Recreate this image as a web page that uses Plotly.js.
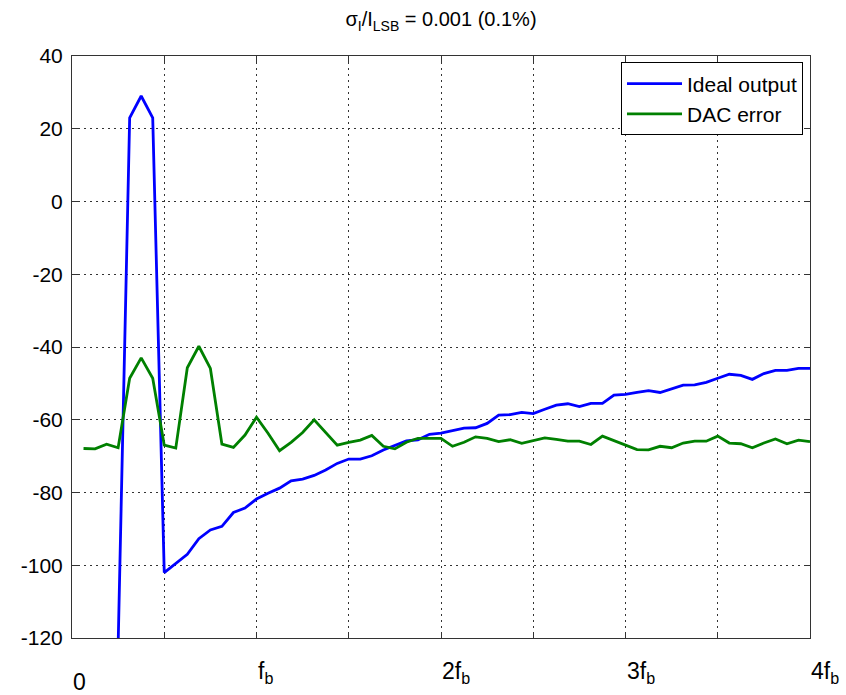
<!DOCTYPE html>
<html>
<head>
<meta charset="utf-8">
<script src="https://cdn.plot.ly/plotly-3.0.1.min.js"></script>
<style>html,body{margin:0;padding:0;background:#fff;}#chart{width:846px;height:695px;}</style>
</head>
<body>
<div id="chart"></div>
<script>
// frequency bin (1 bin = f_b/16)
const freqBins = [1,2,3,4,5,6,7,8,9,10,11,12,13,14,15,16,17,18,19,20,21,22,23,24,25,26,27,28,29,30,31,32,
  33,34,35,36,37,38,39,40,41,42,43,44,45,46,47,48,49,50,51,52,53,54,55,56,57,58,59,60,61,62,63,64];

const idealOutput = [-140,-140,-140,-122,23,29,23,-102,-99.4,-97,-92.7,-90.3,-89.3,-85.5,-84.3,-81.8,
  -80.2,-78.8,-76.8,-76.3,-75.3,-73.8,-72,-70.8,-70.8,-69.9,-68.3,-67.1,-65.8,-65.5,-64,-63.7,
  -63,-62.3,-62.2,-61,-58.7,-58.6,-58,-58.3,-57.1,-56,-55.6,-56.4,-55.5,-55.5,-53.2,-53,
  -52.5,-52,-52.5,-51.4,-50.5,-50.4,-49.7,-48.6,-47.5,-47.8,-48.9,-47.3,-46.4,-46.4,-45.9,-45.9];

const dacError = [-67.9,-68,-66.7,-67.7,-48.6,-43,-48.6,-67,-67.8,-45.7,-39.8,-45.9,-66.7,-67.6,-64.2,-59.3,
  -63.7,-68.5,-66.2,-63.5,-60,-63.5,-67,-66.2,-65.6,-64.3,-67.3,-68,-66.2,-65.1,-65,-65.1,
  -67.3,-66.2,-64.7,-65.1,-66,-65.5,-66.5,-65.7,-65,-65.4,-65.9,-65.9,-66.8,-64.5,-65.7,-66.8,
  -68.2,-68.3,-67.3,-67.7,-66.4,-65.9,-65.9,-64.5,-66.4,-66.6,-67.7,-66.4,-65.3,-66.6,-65.6,-66];

const xGridBins = [0,8,16,24,32,40,48,56,64];
const xLabelBins = [0,16,32,48,64];
const xLabels = ['0','f<sub>b</sub>','2f<sub>b</sub>','3f<sub>b</sub>','4f<sub>b</sub>'];
const yTickVals = [-120,-100,-80,-60,-40,-20,0,20,40];
const yTickText = ['-120','-100','-80','-60','-40','-20','0','20','40'];

const FONT = 'Liberation Sans, Arial, Helvetica, sans-serif';

const traces = [
  {x: freqBins, y: idealOutput, type: 'scatter', mode: 'lines', name: 'Ideal output',
   line: {color: '#0000ff', width: 2.8}},
  {x: freqBins, y: dacError, type: 'scatter', mode: 'lines', name: 'DAC error',
   line: {color: '#008000', width: 2.8}}
];

const annotations = xLabelBins.map((b, i) => ({
  x: b, xref: 'x', y: 0, yref: 'paper', xanchor: 'left', yanchor: 'top',
  yshift: xLabels[i] === '0' ? -29 : -18, xshift: -1,
  text: xLabels[i], showarrow: false,
  font: {family: FONT, size: 23, color: '#000'}
}));

const layout = {
  width: 846, height: 695,
  margin: {l: 72, r: 36, t: 56, b: 57, pad: 0},
  paper_bgcolor: '#fff', plot_bgcolor: '#fff',
  font: {family: FONT, color: '#000'},
  title: {text: 'σ<sub>I</sub>/I<sub>LSB</sub> = 0.001 (0.1%)', x: 0.5, xref: 'paper',
          y: 0.972, yref: 'container', yanchor: 'middle',
          font: {family: FONT, size: 20, color: '#000'}},
  showlegend: true,
  legend: {x: 0.9905, xanchor: 'right', y: 0.989, yanchor: 'top',
           bgcolor: '#fff', bordercolor: '#000', borderwidth: 1,
           font: {family: FONT, size: 21, color: '#000'}, itemwidth: 55,
           tracegroupgap: 0},
  xaxis: {range: [0, 64], tickmode: 'array', tickvals: xGridBins,
          showticklabels: false,
          ticks: 'inside', ticklen: 6, tickcolor: '#333', tickwidth: 1,
          showline: true, linecolor: '#333', linewidth: 1, mirror: 'ticks',
          showgrid: true, gridcolor: '#333', gridwidth: 1, griddash: '2px,4px',
          zeroline: false, fixedrange: true},
  yaxis: {range: [-120, 40], tickmode: 'array', tickvals: yTickVals, ticktext: yTickText,
          ticks: 'inside', ticklen: 6, tickcolor: '#333', tickwidth: 1,
          showline: true, linecolor: '#333', linewidth: 1, mirror: 'ticks',
          showgrid: true, gridcolor: '#333', gridwidth: 1, griddash: '2px,4px',
          zeroline: false, ticklabelstandoff: 4,
          tickfont: {family: FONT, size: 21, color: '#000'}, fixedrange: true},
  annotations: annotations
};

Plotly.newPlot('chart', traces, layout, {displayModeBar: false, staticPlot: true});
</script>
</body>
</html>
